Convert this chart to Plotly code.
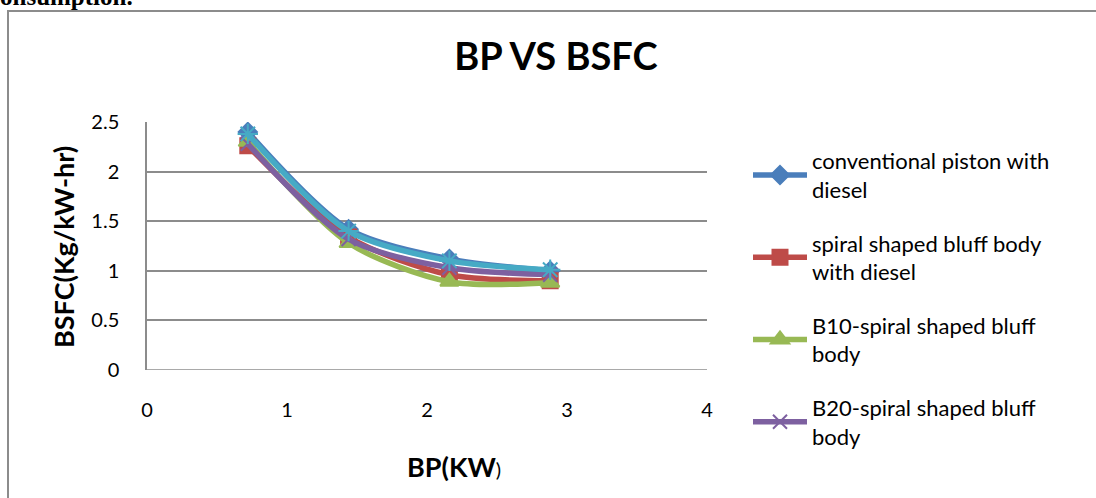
import plotly.graph_objects as go

bp = [0.72, 1.44, 2.16, 2.88]
conventional = [2.40, 1.42, 1.12, 1.00]
spiral_diesel = [2.26, 1.34, 0.96, 0.90]
b10 = [2.30, 1.28, 0.89, 0.88]
b20 = [2.28, 1.32, 1.03, 0.96]
b30 = [2.38, 1.40, 1.10, 1.01]

names = ["conventional piston with<br>diesel", "spiral shaped bluff body<br>with diesel",
         "B10-spiral shaped bluff<br>body", "B20-spiral shaped bluff<br>body", "B30-spiral shaped bluff<br>body"]
series = [conventional, spiral_diesel, b10, b20, b30]
colors = ["#4A7EBB", "#BE4B48", "#98B954", "#7D60A0", "#46AAC5"]
symbols = ["diamond", "square", "triangle-up", "x-thin", "asterisk"]
sizes = [14, 15, 16, 14, 17]

W, H = 1096, 498
L, R, T, B = 147, 389, 122, 128
pw, ph = W - L - R, H - T - B


def px_x(p):
    return (p - L) / pw


def px_y(p):
    return 1 - (p - T) / ph


fig = go.Figure()
for i, (nm, ys) in enumerate(zip(names, series)):
    fig.add_trace(go.Scatter(
        x=bp, y=ys, name=nm, mode="lines+markers", legendgroup="g%d" % i,
        line=dict(color=colors[i], width=5.5, shape="spline", smoothing=0.8),
        marker=dict(symbol=symbols[i], size=sizes[i], color=colors[i],
                    line=dict(color=colors[i], width=2)),
        showlegend=(i < 4),
    ))

fig.update_layout(
    width=W, height=H,
    margin=dict(l=L, r=R, t=T, b=B),
    paper_bgcolor="white", plot_bgcolor="white",
    font=dict(family="Lato, Open Sans, sans-serif", color="#000000", size=20),
    title=dict(text="<b>BP VS BSFC</b>", x=556 / W, xanchor="center",
               y=1 - 57 / H, yanchor="middle",
               font=dict(size=38, family="Lato, sans-serif")),
    xaxis=dict(range=[0, 4], dtick=1, showgrid=False, zeroline=False,
               showline=False, ticks="", tickfont=dict(size=20),
               ticklabelstandoff=26),
    yaxis=dict(range=[0, 2.5], dtick=0.5, showgrid=True, gridcolor="#8C8C8C",
               gridwidth=1.5, zeroline=False, showline=True, linecolor="#8C8C8C",
               linewidth=1.5, ticks="", tickfont=dict(size=20), ticklabelstandoff=22,
               tickformat="~g"),
    legend=dict(x=px_x(748), xanchor="left",
                y=px_y(140), yanchor="top", maxheight=600,
                font=dict(size=22), tracegroupgap=22, itemwidth=54,
                bgcolor="rgba(0,0,0,0)"),
)

# axis titles
fig.add_annotation(text="<b>BP(KW</b><span style='font-size:20px'>)</span>", xref="paper", yref="paper",
                   x=px_x(454), y=px_y(466), xanchor="center", yanchor="middle",
                   showarrow=False, font=dict(size=27))
fig.add_annotation(text="<b>BSFC(Kg/kW-hr)</b>", xref="paper", yref="paper",
                   x=px_x(63), y=px_y(247), xanchor="center", yanchor="middle",
                   textangle=-90, showarrow=False, font=dict(size=27))

# x-axis baseline
fig.add_shape(type="line", xref="paper", yref="y", x0=0, x1=1, y0=0, y1=0,
              line=dict(color="#8C8C8C", width=1.5))

# chart frame (border of embedded chart)
fig.add_shape(type="rect", xref="paper", yref="paper",
              x0=px_x(8), x1=px_x(1102), y0=px_y(520), y1=px_y(11),
              line=dict(color="#8C8C8C", width=2), layer="below")

# cut-off caption text above chart
fig.add_annotation(text="<b>onsumption.</b>", xref="paper", yref="paper",
                   x=px_x(-2), xanchor="left", y=px_y(12), yanchor="bottom",
                   showarrow=False, font=dict(family="Liberation Serif", size=25, color="black"))

fig.write_html("out.html")
